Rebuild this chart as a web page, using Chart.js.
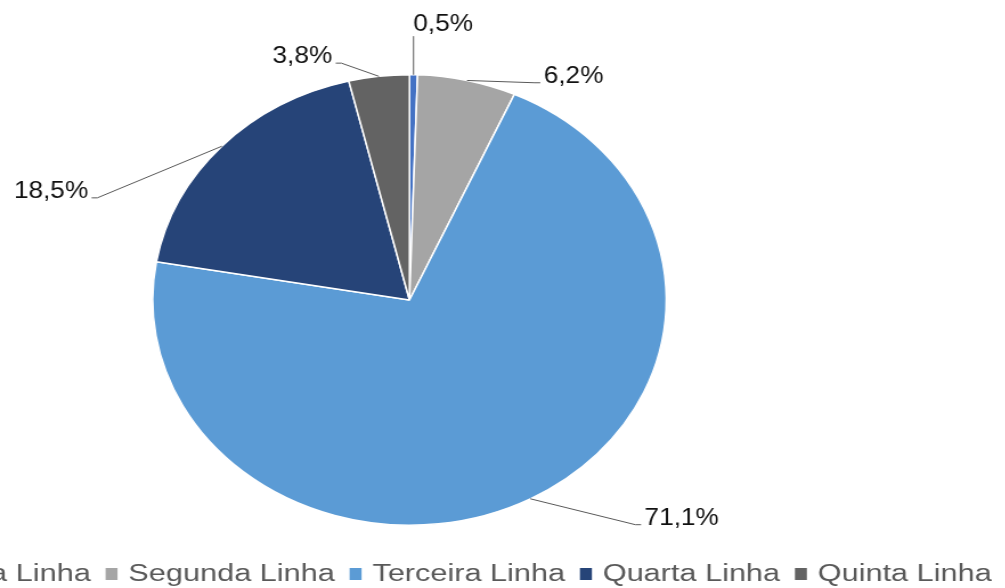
<!DOCTYPE html>
<html>
<head>
<meta charset="utf-8">
<script src="https://cdn.jsdelivr.net/npm/chart.js@4"></script>
<style>
  html, body { margin: 0; padding: 0; background: #fff; overflow: hidden; }
  #wrap { width: 1005px; height: 588px; overflow: hidden; }
  /* the reference is stretched sideways, so the whole canvas is too */
  #pie { display: block; transform: scaleX(1.14); transform-origin: 0 0; }
</style>
</head>
<body>
<div id="wrap"><canvas id="pie" width="882" height="588"></canvas></div>
<script>
const categories = ["Primeira Linha", "Segunda Linha", "Terceira Linha", "Quarta Linha", "Quinta Linha"];
const shares = [0.5, 6.2, 71.1, 18.5, 3.8];
const colors = ["#4472C4", "#A5A5A5", "#5B9BD5", "#264478", "#636363"];

// where each value label sits, relative to the pie centre, in radii
const labelSpots = [[0.131, -1.229], [0.639, -1.0], [1.060, 0.962], [-1.396, -0.489], [-0.417, -1.087]];

const fmt = v => v.toFixed(1).replace(".", ",") + "%";

const outsideLabels = {
  id: "outsideLabels",
  afterDraw(chart) {
    const ctx = chart.ctx;
    const arcs = chart.getDatasetMeta(0).data;
    ctx.save();

    // value labels with leader lines
    ctx.font = '23px "Liberation Sans", Arial, sans-serif';
    arcs.forEach((arc, i) => {
      const p = arc.getProps(["x", "y", "outerRadius", "startAngle", "endAngle"], true);
      const mid = (p.startAngle + p.endAngle) / 2;
      const sx = p.x + Math.cos(mid) * p.outerRadius;
      const sy = p.y + Math.sin(mid) * p.outerRadius;
      const text = fmt(shares[i]);
      const w = ctx.measureText(text).width;
      const lx = p.x + labelSpots[i][0] * p.outerRadius;
      const ly = p.y + labelSpots[i][1] * p.outerRadius;
      const left = lx - w / 2, right = lx + w / 2, base = ly + 8;

      ctx.strokeStyle = "#595959";
      ctx.lineWidth = 1;
      ctx.beginPath();
      ctx.moveTo(sx, sy);
      if (sx > left - 3 && sx < right + 3) {
        ctx.lineTo(sx, base + 5);
      } else if (lx > sx) {
        ctx.lineTo(left - 8, base);
        ctx.lineTo(left - 3, base);
      } else {
        ctx.lineTo(right + 8, base);
        ctx.lineTo(right + 3, base);
      }
      ctx.stroke();

      ctx.fillStyle = "#111";
      ctx.textAlign = "center";
      ctx.textBaseline = "alphabetic";
      ctx.fillText(text, lx, base);
    });

    // legend along the bottom (wider than the picture, cut at both sides)
    const stretch = 1.17, boxW = 10.5, boxH = 12, toText = 20, gap = 13;
    const legendMid = 378, legendY = 574;
    ctx.font = '23px "Liberation Sans", Arial, sans-serif';
    const widths = categories.map(c => ctx.measureText(c).width * stretch);
    const total = widths.reduce((s, w) => s + toText + w, 0) + gap * (categories.length - 1);
    let x = legendMid - total / 2;
    categories.forEach((c, i) => {
      ctx.fillStyle = colors[i];
      ctx.fillRect(x, legendY - boxH / 2, boxW, boxH);
      ctx.save();
      ctx.translate(x + toText, legendY);
      ctx.scale(stretch, 1);
      ctx.fillStyle = "#595959";
      ctx.textAlign = "left";
      ctx.textBaseline = "middle";
      ctx.fillText(c, 0, 1);
      ctx.restore();
      x += toText + widths[i] + gap;
    });
    ctx.restore();
  }
};

new Chart(document.getElementById("pie").getContext("2d"), {
  type: "pie",
  data: {
    labels: categories,
    datasets: [{
      data: shares,
      backgroundColor: colors,
      borderColor: "#fff",
      borderWidth: 1.5
    }]
  },
  options: {
    responsive: false,
    animation: false,
    layout: { padding: { top: 74, bottom: 62, left: 133.2, right: 296.8 } },
    plugins: {
      legend: { display: false },
      tooltip: { enabled: false }
    }
  },
  plugins: [outsideLabels]
});
</script>
</body>
</html>
